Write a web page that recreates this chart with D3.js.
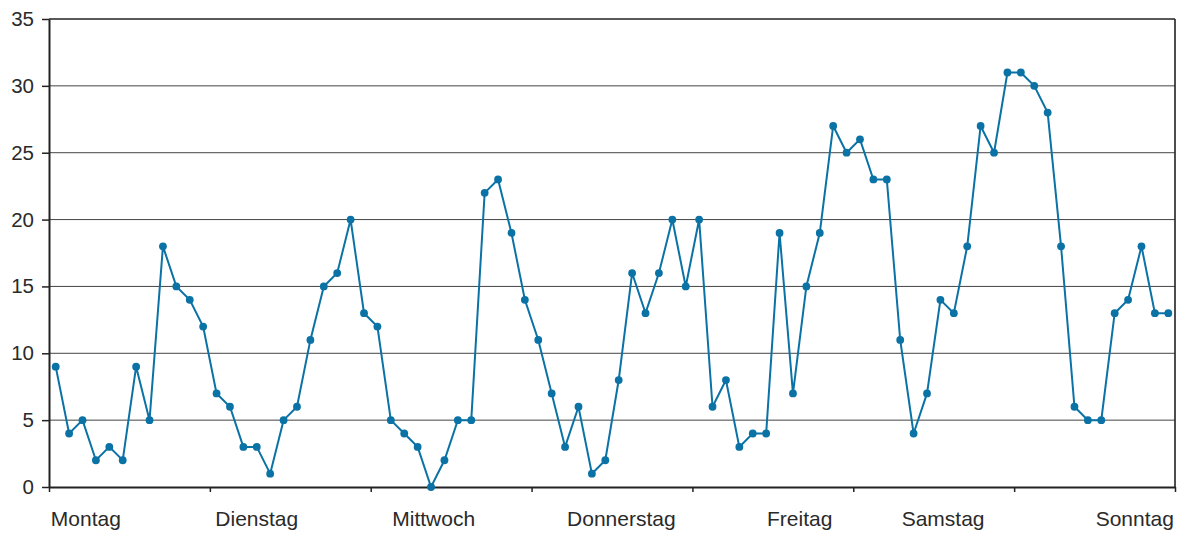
<!DOCTYPE html>
<html>
<head>
<meta charset="utf-8">
<script src="https://cdn.jsdelivr.net/npm/d3@7/dist/d3.min.js"></script>
<style>
html,body{margin:0;padding:0;background:#fff;}
svg{display:block;}
text{font-family:"Liberation Sans",Arial,sans-serif;fill:#2a2a2a;}
</style>
</head>
<body>
<svg id="chart" width="1184" height="533"></svg>
<script>
// ---- data ----
const days = ["Montag","Dienstag","Mittwoch","Donnerstag","Freitag","Samstag","Sonntag"];
const pointsPerDay = 12;
const values = [
  9,4,5,2,3,2,9,5,18,15,14,12,
  7,6,3,3,1,5,6,11,15,16,20,13,
  12,5,4,3,0,2,5,5,22,23,19,14,
  11,7,3,6,1,2,8,16,13,16,20,15,
  20,6,8,3,4,4,19,7,15,19,27,25,
  26,23,23,11,4,7,14,13,18,27,25,31,
  31,30,28,18,6,5,5,13,14,18,13,13
];
const yTicks = [0,5,10,15,20,25,30,35];

// ---- layout ----
const W = 1184, H = 533;
const m = {left:49, right:9, top:19, bottom:46};
const iw = W - m.left - m.right, ih = H - m.top - m.bottom;
// label anchor (category index units) as laid out in the original
const labelAnchor = [2.75, 15.5, 28.7, 42.7, 56.0, 66.7, 81.0];

const svg = d3.select("#chart");
const g = svg.append("g").attr("transform", `translate(${m.left},${m.top})`);

const n = values.length;
const x = d3.scaleLinear().domain([0, n]).range([0, iw]);
const xc = i => x(i + 0.5);
const y = d3.scaleLinear().domain([0, 35]).range([ih, 0]);

// gridlines
g.append("g").selectAll("line").data(yTicks.filter(t => t > 0)).join("line")
  .attr("x1", 0).attr("x2", iw)
  .attr("y1", d => y(d)).attr("y2", d => y(d))
  .attr("stroke", d => d === 35 ? "#222" : "#444")
  .attr("stroke-width", d => d === 35 ? 1.6 : 1);

// right border
g.append("line").attr("x1", iw).attr("x2", iw).attr("y1", 0).attr("y2", ih)
  .attr("stroke", "#222").attr("stroke-width", 1.6);

// y axis
const yAxis = d3.axisLeft(y).tickValues(yTicks).tickSize(7).tickPadding(8).tickSizeOuter(0);
const ya = g.append("g").call(yAxis);
ya.select(".domain").attr("stroke", "#222").attr("stroke-width", 2);
ya.selectAll(".tick line").attr("stroke", "#222").attr("stroke-width", 1.5);
ya.selectAll(".tick text").style("font-size", "20.5px").attr("fill", "#2a2a2a")
  .style("font-family", "'Liberation Sans', Arial, sans-serif");

// x axis
const boundaries = d3.range(0, days.length + 1).map(i => i * pointsPerDay);
const xAxis = d3.axisBottom(x).tickValues(boundaries).tickSize(5).tickFormat("").tickSizeOuter(0);
const xa = g.append("g").attr("transform", `translate(0,${ih})`).call(xAxis);
xa.select(".domain").attr("stroke", "#222").attr("stroke-width", 2);
xa.selectAll(".tick line").attr("stroke", "#222").attr("stroke-width", 1.5);

// x labels
g.append("g").selectAll("text").data(days).join("text")
  .attr("x", (d, i) => x(labelAnchor[i]))
  .attr("y", ih + 39)
  .attr("text-anchor", "middle")
  .style("font-size", "21px")
  .text(d => d);

// line
const color = "#0b72a6";
const line = d3.line().x((d, i) => xc(i)).y(d => y(d));
g.append("path").datum(values)
  .attr("fill", "none").attr("stroke", color).attr("stroke-width", 2)
  .attr("d", line);

g.append("g").selectAll("circle").data(values).join("circle")
  .attr("cx", (d, i) => xc(i)).attr("cy", d => y(d)).attr("r", 3.9)
  .attr("fill", color);
</script>
</body>
</html>
